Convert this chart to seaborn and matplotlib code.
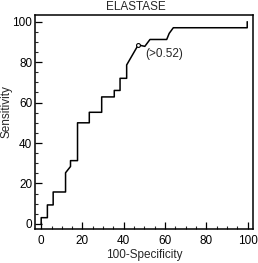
import numpy as np
import pandas as pd
import matplotlib
matplotlib.use("Agg")
import matplotlib.pyplot as plt
import seaborn as sns
from matplotlib.ticker import MultipleLocator

# ROC curve points (100-Specificity, Sensitivity)
fpr = [0, 0, 3.0, 3.0, 5.8, 5.8, 11.8, 11.8, 14.2, 14.2, 17.6, 17.6, 23.3, 23.3,
       29.3, 29.3, 35.4, 35.4, 38.2, 38.2, 41.4, 41.4, 47.0, 50.2, 52.7, 60.8,
       62.0, 64.0, 99.8, 99.8]
sens = [0, 3.1, 3.1, 9.4, 9.4, 15.8, 15.8, 25.3, 28.4, 31.3, 31.3, 50.0, 50.0, 55.2,
        55.2, 62.8, 62.8, 66.0, 66.0, 72.0, 72.0, 78.6, 88.5, 87.8, 91.2, 91.2,
        94.2, 97.0, 97.0, 100.0]
cut_x = [47.0]
cut_y = [88.5]
cut_label = "(>0.52)"

df = pd.DataFrame({"fpr": fpr, "sens": sens})

sns.set_style("ticks")
plt.rcParams["font.family"] = ["Liberation Sans", "DejaVu Sans"]

fig = plt.figure(figsize=(2.58, 2.63), dpi=100)
ax = fig.add_axes([35 / 258, 1 - 229 / 263, 218 / 258, 214 / 263])

sns.lineplot(data=df, x="fpr", y="sens", sort=False, estimator=None,
             color="black", linewidth=1.1, ax=ax)
ax.plot(cut_x, cut_y, marker="o", ms=2.8, mfc="white", mec="black", mew=0.8, ls="none")
ax.text(cut_x[0] + 3.2, cut_y[0] - 4.5, cut_label, fontsize=8.5, va="center", ha="left")

ax.set_xlim(-3, 102.6)
ax.set_ylim(-2.5, 103.3)
ax.xaxis.set_major_locator(MultipleLocator(20))
ax.xaxis.set_minor_locator(MultipleLocator(5))
ax.yaxis.set_major_locator(MultipleLocator(20))
ax.yaxis.set_minor_locator(MultipleLocator(5))
ax.tick_params(which="major", direction="in", length=5, width=0.9, labelsize=8.5, colors="black")
ax.tick_params(which="minor", direction="in", length=2.5, width=0.8)
ax.tick_params(axis="x", pad=4)
ax.tick_params(axis="y", pad=2)
for s in ax.spines.values():
    s.set_visible(True)
    s.set_linewidth(1.1)
    s.set_color("black")

ax.set_xlabel("100-Specificity", fontsize=8.5, labelpad=2)
ax.set_ylabel("Sensitivity", fontsize=8.5)
ax.yaxis.set_label_coords(-0.105, 0.55)
ax.text(0.463, 1.01, "ELASTASE", transform=ax.transAxes, ha="center", va="bottom", fontsize=8.5)

fig.savefig("out.png", dpi=100)
